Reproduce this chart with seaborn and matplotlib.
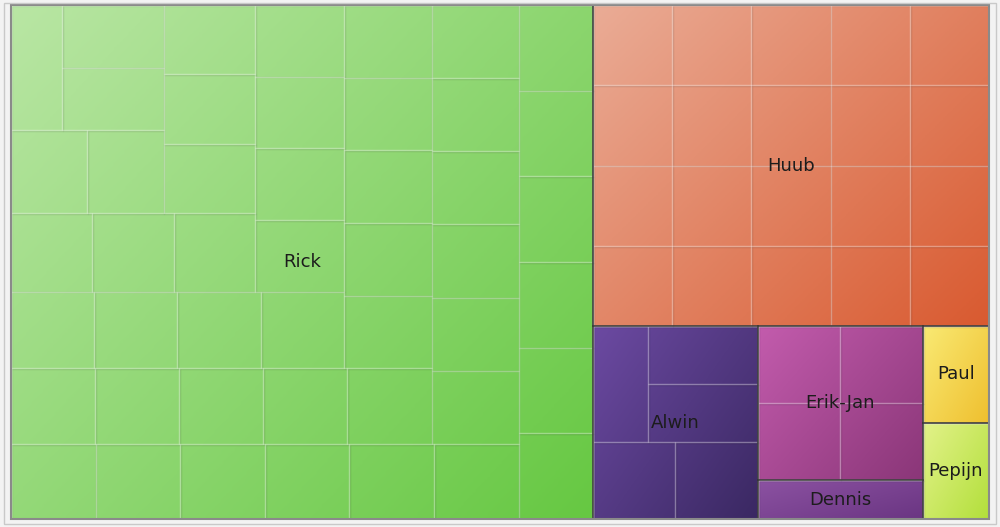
import numpy as np
import matplotlib
matplotlib.use("Agg")
import matplotlib.pyplot as plt
from matplotlib.patches import Rectangle
import seaborn as sns

# ---------------- data ----------------
names = ["Rick", "Huub", "Alwin", "Erik-Jan", "Dennis", "Paul", "Pepijn"]
counts = [47, 20, 5, 4, 1, 1, 1]          # number of unit items per person
light_colors = ["#b9e6a4", "#eaac96", "#6c4aa2", "#c35cad", "#8c52a2", "#f9ea74", "#e3f28a"]
dark_colors = ["#66c842", "#d95a30", "#3a2862", "#8a3678", "#6a3582", "#efbf2e", "#b2df3a"]

sns.set_theme(style="white")
plt.rcParams['font.family'] = ['DejaVu Sans']

W, H = 978.0, 514.0   # layout area (axes units)


def squarify(values, x, y, w, h, from_start=True):
    """Squarified layout; strips compared on the aspect ratio of their first item.
    y axis points downward. from_start: strips at left/top, otherwise right/bottom."""
    n = len(values)
    total = float(sum(values))
    areas = [v * w * h / total for v in values]
    rects = [None] * n
    i = 0
    while i < n:
        vertical = w >= h
        side = h if vertical else w

        def ratio(k):
            s = sum(areas[i:i + k])
            thick = s / side
            length = areas[i] / thick
            return max(thick / length, length / thick)

        k = 1
        while i + k < n and ratio(k + 1) <= ratio(k):
            k += 1
        s = sum(areas[i:i + k])
        thick = s / side
        if vertical:
            cx = x if from_start else x + w - thick
            off = y
            for j in range(i, i + k):
                ln = areas[j] / thick
                rects[j] = (cx, off, thick, ln)
                off += ln
            if from_start:
                x += thick
            w -= thick
        else:
            cy = y if from_start else y + h - thick
            off = x
            for j in range(i, i + k):
                ln = areas[j] / thick
                rects[j] = (off, cy, ln, thick)
                off += ln
            if from_start:
                y += thick
            h -= thick
        i += k
    return rects


fig = plt.figure(figsize=(10.0, 5.27), dpi=100)
fig.patch.set_facecolor("#f3f3f3")
fig.patches.append(Rectangle((0.004, 0.006), 0.992, 0.988, transform=fig.transFigure,
                             fill=False, edgecolor="#c9c9c9", linewidth=1.0))
ax = fig.add_axes([11 / 1000, 8 / 527, 978 / 1000, 514 / 527])
ax.set_xlim(0, W)
ax.set_ylim(H, 0)
ax.set_axis_off()

groups = squarify(counts, 0, 0, W, H, from_start=True)

for name, cnt, lc, dc, (gx, gy, gw, gh) in zip(names, counts, light_colors, dark_colors, groups):
    cmap = sns.blend_palette([lc, dc], as_cmap=True)
    u = np.linspace(0, 1, 200)
    v = np.linspace(0, 1, 200)
    U, V = np.meshgrid(u, v)
    grad = 0.55 * U + 0.45 * V
    im = ax.imshow(grad, cmap=cmap, extent=(gx, gx + gw, gy + gh, gy),
                   origin="upper", aspect="auto", interpolation="bilinear", zorder=1)
    clip = Rectangle((gx, gy), gw, gh, transform=ax.transData, facecolor="none")
    ax.add_patch(clip)
    im.set_clip_path(clip)

    # inner unit cells
    cells = squarify([1] * cnt, gx, gy, gw, gh, from_start=False)
    for (cx, cy, cw, ch) in cells:
        ax.add_patch(Rectangle((cx + 0.8, cy + 0.8), cw, ch, facecolor="none",
                               edgecolor="black", alpha=0.05, linewidth=1.0, zorder=2))
        ax.add_patch(Rectangle((cx, cy), cw, ch, facecolor="none",
                               edgecolor="white", alpha=0.20, linewidth=1.0, zorder=3))
    # group border
    ax.add_patch(Rectangle((gx, gy), gw, gh, facecolor="none",
                           edgecolor="#2a2a2a", alpha=0.55, linewidth=1.3, zorder=4))
    ax.text(gx + gw / 2, gy + gh / 2, name, ha="center", va="center",
            fontsize=13, color="#1c1c1c", zorder=5)

ax.add_patch(Rectangle((0, 0), W, H, facecolor="none", edgecolor="#8a8a8a",
                       linewidth=1.5, zorder=6, clip_on=False))

fig.savefig("out.png", dpi=100, facecolor=fig.get_facecolor())
